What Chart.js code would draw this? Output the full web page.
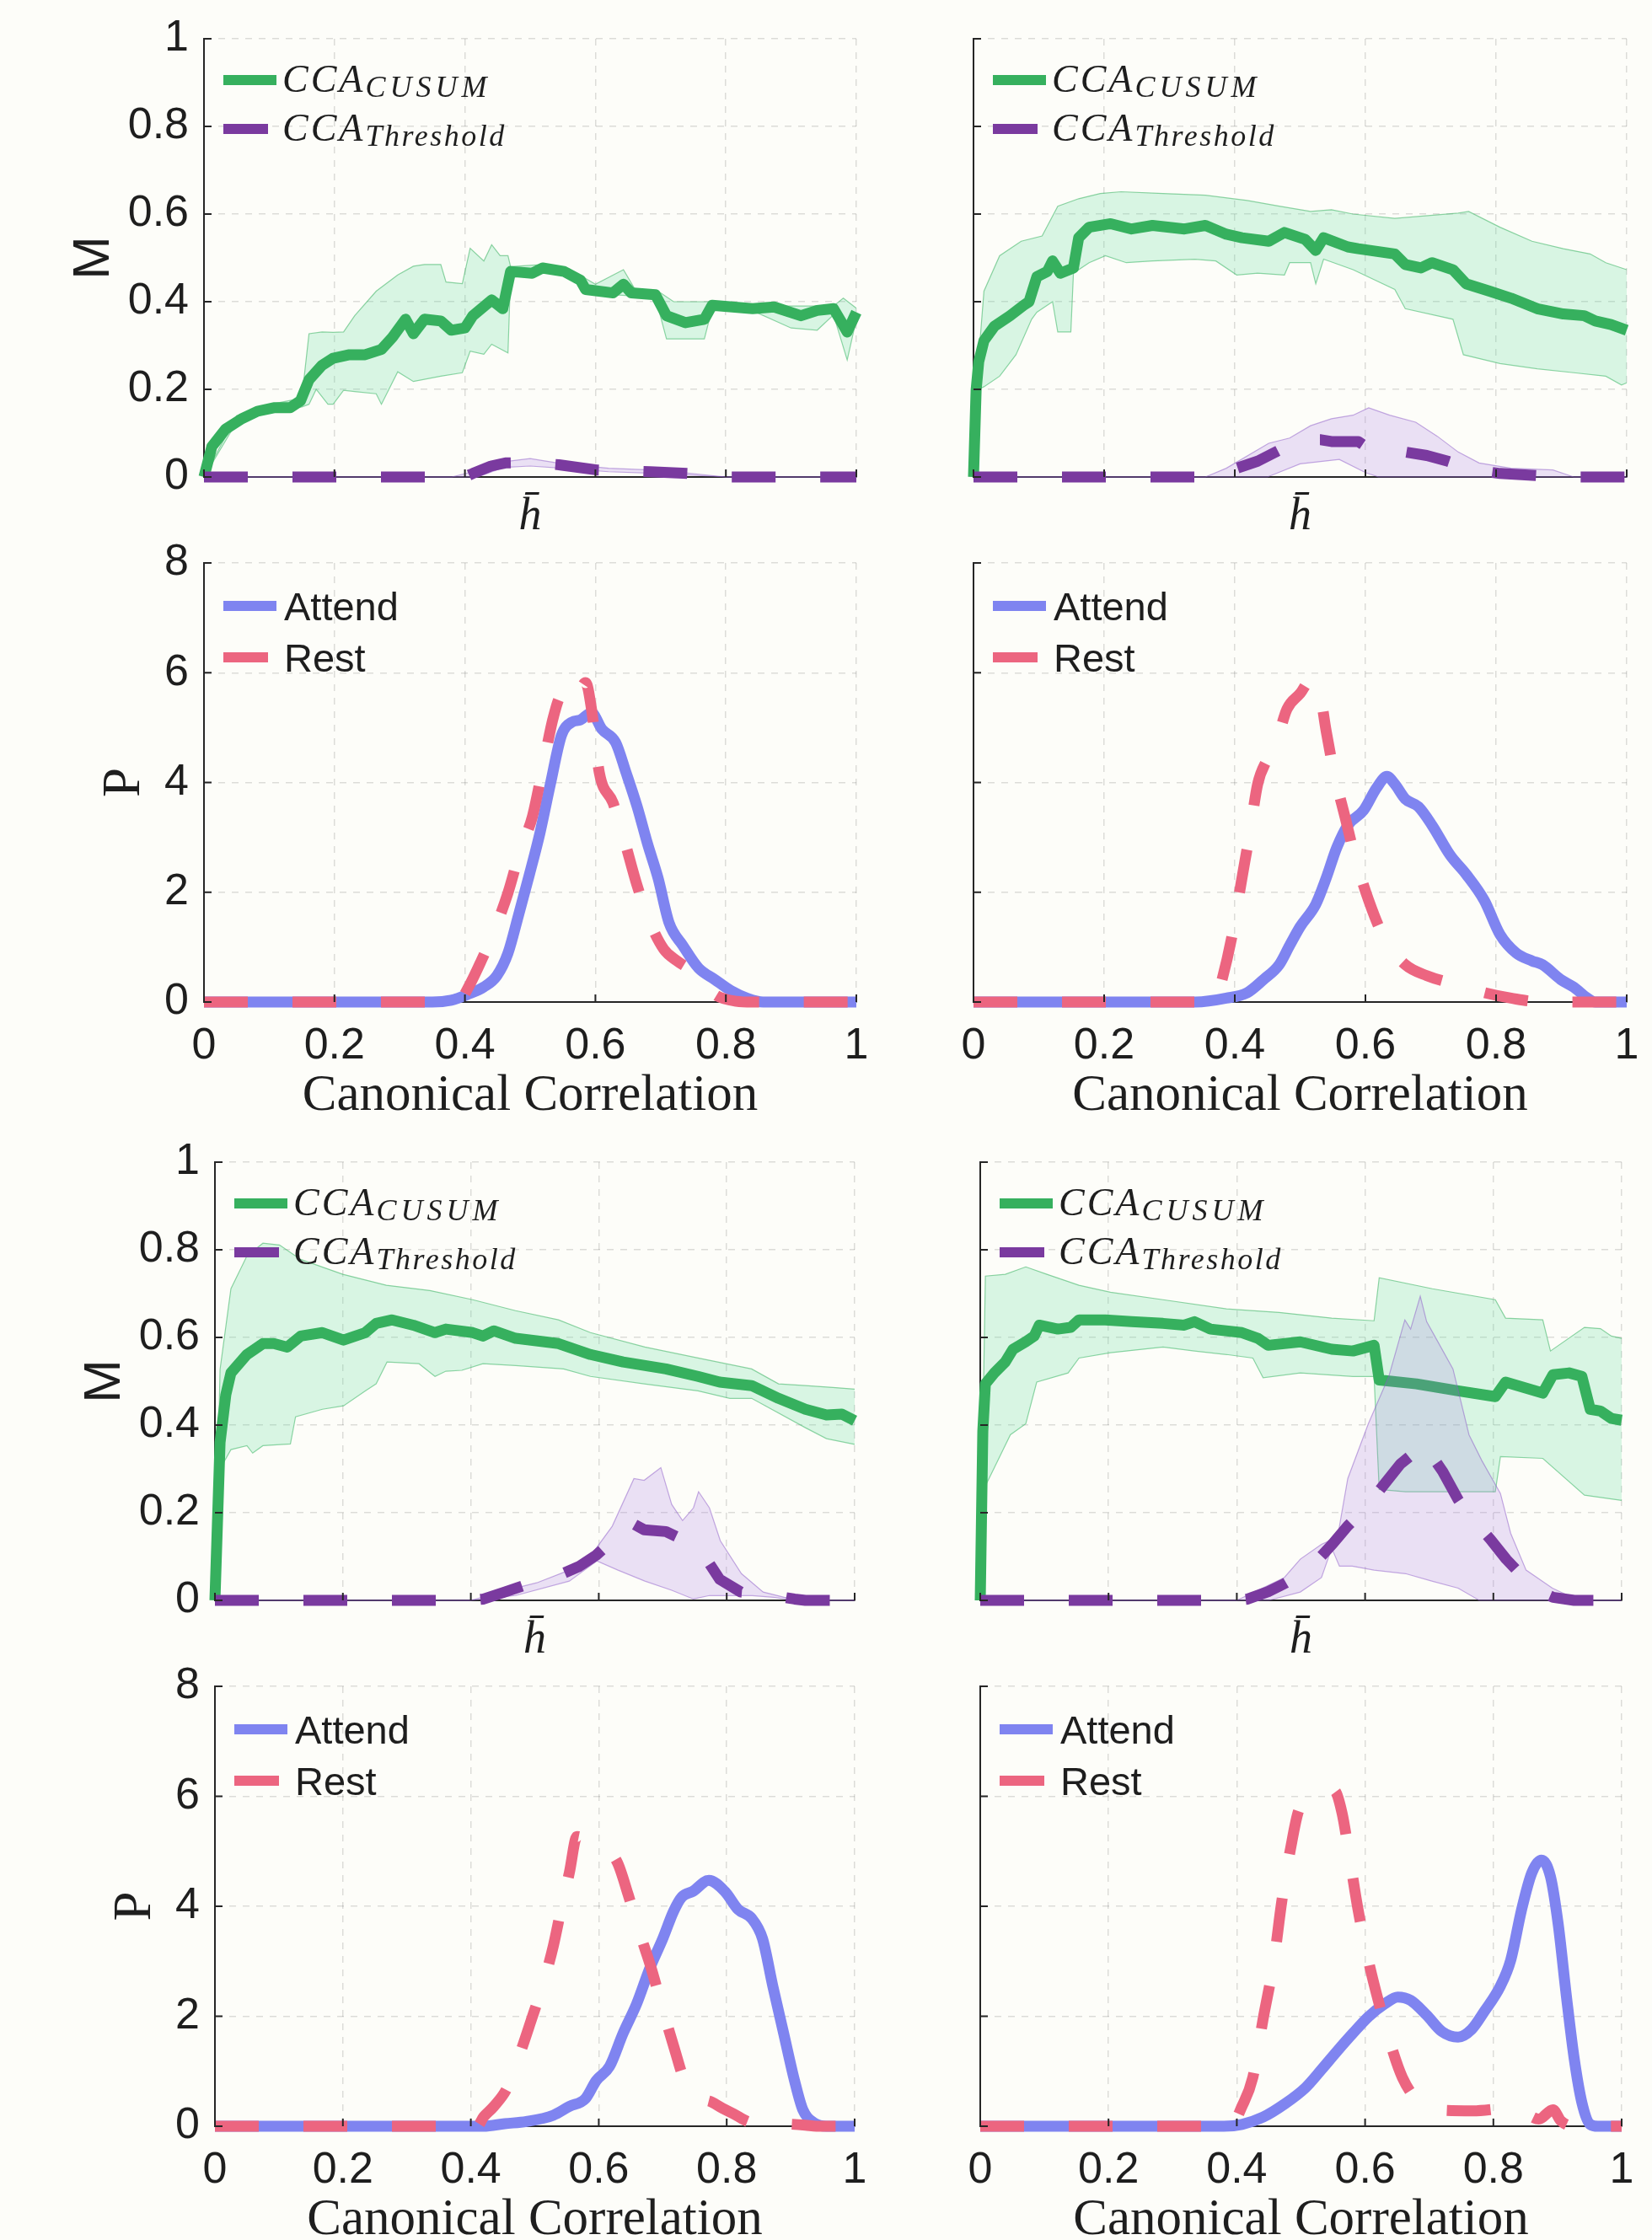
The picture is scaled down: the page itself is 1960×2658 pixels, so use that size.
<!DOCTYPE html>
<html>
<head>
<meta charset="utf-8">
<script src="https://cdn.jsdelivr.net/npm/chart.js@4.4.0/dist/chart.umd.min.js"></script>
<style>
  html, body { margin: 0; padding: 0; background: #fdfdf9; }
  #fig { position: relative; width: 1960px; height: 2658px; overflow: hidden; }
</style>
</head>
<body>
<div id="fig"></div>
<script>
// ======================= DATA =======================
const mTicks = [0, 0.2, 0.4, 0.6, 0.8, 1];
const pTicks = [0, 2, 4, 6, 8];
const xTicks = [0, 0.2, 0.4, 0.6, 0.8, 1];
const mLabel = 'M';
const pLabel = 'P';
const hLabel = 'h\u0304';
const ccLabel = 'Canonical Correlation';
const cusumName = 'CCA_CUSUM';
const thrName = 'CCA_Threshold';
const attendName = 'Attend';
const restName = 'Rest';

// --- panel 1 (top left) ---
const m1Cusum = [[0,0],[0.012,0.069],[0.033,0.109],[0.058,0.133],[0.082,0.15],[0.107,0.158],[0.132,0.158],[0.148,0.174],[0.161,0.222],[0.181,0.255],[0.198,0.271],[0.223,0.279],[0.247,0.279],[0.272,0.291],[0.289,0.319],[0.309,0.36],[0.321,0.327],[0.338,0.36],[0.363,0.356],[0.379,0.335],[0.4,0.34],[0.412,0.368],[0.441,0.404],[0.458,0.384],[0.47,0.469],[0.503,0.465],[0.519,0.477],[0.552,0.469],[0.577,0.449],[0.585,0.428],[0.627,0.42],[0.643,0.44],[0.655,0.42],[0.692,0.416],[0.709,0.368],[0.738,0.352],[0.767,0.36],[0.779,0.392],[0.841,0.384],[0.874,0.388],[0.915,0.368],[0.94,0.38],[0.965,0.384],[0.986,0.331],[1,0.376]];
const m1CusumHi = [[0,0],[0.05,0.14],[0.1,0.165],[0.15,0.18],[0.161,0.327],[0.181,0.331],[0.198,0.33],[0.214,0.331],[0.231,0.368],[0.264,0.424],[0.297,0.461],[0.321,0.481],[0.338,0.485],[0.363,0.485],[0.371,0.445],[0.396,0.441],[0.408,0.522],[0.429,0.493],[0.441,0.53],[0.454,0.505],[0.466,0.505],[0.47,0.48],[0.52,0.485],[0.56,0.475],[0.6,0.44],[0.643,0.473],[0.66,0.43],[0.7,0.42],[0.72,0.4],[0.779,0.4],[0.84,0.39],[0.9,0.39],[0.94,0.39],[0.965,0.39],[0.98,0.408],[1,0.385]];
const m1CusumLo = [[0,0],[0.05,0.125],[0.1,0.15],[0.15,0.16],[0.161,0.166],[0.172,0.2],[0.19,0.166],[0.198,0.166],[0.214,0.198],[0.231,0.195],[0.264,0.19],[0.272,0.166],[0.297,0.24],[0.321,0.218],[0.363,0.23],[0.396,0.238],[0.408,0.287],[0.429,0.28],[0.441,0.303],[0.466,0.283],[0.47,0.46],[0.52,0.47],[0.56,0.46],[0.585,0.42],[0.692,0.41],[0.709,0.315],[0.767,0.315],[0.779,0.385],[0.84,0.38],[0.9,0.34],[0.94,0.335],[0.965,0.37],[0.986,0.267],[1,0.36]];
const m1Thr = [[0,0],[0.4,0],[0.412,0.008],[0.44,0.025],[0.462,0.032],[0.5,0.033],[0.544,0.028],[0.602,0.016],[0.684,0.012],[0.742,0.008],[0.8,0],[1,0]];
const m1ThrHi = [[0,0],[0.38,0],[0.42,0.015],[0.46,0.035],[0.5,0.042],[0.55,0.03],[0.62,0.02],[0.7,0.015],[0.8,0],[1,0]];
const m1ThrLo = [[0,0],[0.42,0],[0.46,0.022],[0.5,0.025],[0.55,0.02],[0.62,0.012],[0.7,0.008],[0.8,0],[1,0]];

// --- panel 2 (top right) ---
const m2Cusum = [[0,0],[0.004,0.198],[0.008,0.263],[0.016,0.311],[0.032,0.344],[0.056,0.368],[0.077,0.392],[0.085,0.4],[0.097,0.457],[0.113,0.469],[0.121,0.493],[0.133,0.465],[0.153,0.477],[0.161,0.546],[0.177,0.57],[0.21,0.578],[0.242,0.566],[0.274,0.574],[0.323,0.566],[0.355,0.574],[0.387,0.554],[0.411,0.546],[0.452,0.538],[0.476,0.558],[0.508,0.542],[0.524,0.517],[0.536,0.546],[0.573,0.525],[0.589,0.521],[0.645,0.509],[0.661,0.485],[0.685,0.477],[0.702,0.489],[0.734,0.473],[0.754,0.441],[0.79,0.424],[0.823,0.408],[0.863,0.384],[0.903,0.372],[0.935,0.368],[0.952,0.356],[0.976,0.348],[1,0.335]];
const m2CusumHi = [[0,0],[0.004,0.198],[0.016,0.424],[0.04,0.505],[0.073,0.538],[0.105,0.55],[0.129,0.618],[0.161,0.635],[0.194,0.647],[0.226,0.651],[0.29,0.647],[0.355,0.643],[0.419,0.631],[0.468,0.618],[0.516,0.606],[0.548,0.61],[0.581,0.6],[0.645,0.59],[0.742,0.602],[0.758,0.606],[0.806,0.57],[0.855,0.538],[0.903,0.521],[0.944,0.509],[0.968,0.489],[1,0.473]];
const m2CusumLo = [[0,0],[0.004,0.198],[0.016,0.206],[0.04,0.23],[0.065,0.279],[0.089,0.36],[0.097,0.376],[0.121,0.4],[0.129,0.331],[0.149,0.331],[0.153,0.465],[0.177,0.489],[0.202,0.505],[0.234,0.489],[0.274,0.493],[0.339,0.497],[0.371,0.493],[0.403,0.461],[0.435,0.465],[0.476,0.461],[0.484,0.489],[0.516,0.489],[0.524,0.441],[0.536,0.497],[0.581,0.473],[0.645,0.428],[0.661,0.384],[0.734,0.36],[0.75,0.279],[0.806,0.259],[0.863,0.247],[0.919,0.238],[0.968,0.23],[0.992,0.21],[1,0.215]];
const m2Thr = [[0,0],[0.36,0],[0.403,0.02],[0.435,0.036],[0.468,0.061],[0.5,0.085],[0.532,0.085],[0.548,0.081],[0.589,0.081],[0.597,0.073],[0.629,0.061],[0.661,0.057],[0.694,0.049],[0.726,0.036],[0.766,0.016],[0.806,0.008],[0.855,0.004],[0.903,0],[1,0]];
const m2ThrHi = [[0,0],[0.355,0],[0.387,0.02],[0.452,0.077],[0.484,0.089],[0.516,0.117],[0.548,0.133],[0.581,0.141],[0.605,0.158],[0.637,0.141],[0.677,0.125],[0.71,0.093],[0.742,0.057],[0.774,0.032],[0.823,0.02],[0.887,0.016],[0.919,0],[1,0]];
const m2ThrLo = [[0,0],[0.45,0],[0.5,0.03],[0.56,0.04],[0.6,0.01],[0.62,0],[1,0]];

// --- panel 3 (second row left) ---
const p1Attend = [[0,0],[0.35,0],[0.379,0.034],[0.404,0.137],[0.429,0.274],[0.449,0.48],[0.466,0.89],[0.482,1.575],[0.499,2.33],[0.515,3.08],[0.531,3.97],[0.548,4.86],[0.564,5.1],[0.577,5.14],[0.594,5.27],[0.61,4.97],[0.631,4.73],[0.647,4.18],[0.664,3.56],[0.68,2.88],[0.696,2.26],[0.713,1.44],[0.734,1.03],[0.758,0.62],[0.783,0.41],[0.808,0.205],[0.833,0.068],[0.857,0],[1,0]];
const p1Rest = [[0,0],[0.39,0],[0.404,0.24],[0.425,0.75],[0.445,1.3],[0.466,1.99],[0.486,2.81],[0.503,3.36],[0.519,4.25],[0.536,5.21],[0.548,5.58],[0.565,5.4],[0.585,5.82],[0.594,5.34],[0.606,4.18],[0.627,3.63],[0.643,3.01],[0.664,2.12],[0.684,1.44],[0.705,0.96],[0.725,0.75],[0.75,0.55],[0.783,0.137],[0.816,0.014],[0.84,0],[1,0]];

// --- panel 4 (second row right) ---
const p2Attend = [[0,0],[0.34,0],[0.387,0.07],[0.419,0.17],[0.444,0.41],[0.468,0.68],[0.484,1.03],[0.5,1.37],[0.524,1.78],[0.54,2.26],[0.556,2.81],[0.573,3.22],[0.597,3.49],[0.617,3.9],[0.633,4.11],[0.645,3.97],[0.661,3.7],[0.681,3.56],[0.702,3.22],[0.73,2.67],[0.754,2.33],[0.782,1.85],[0.806,1.23],[0.831,0.89],[0.855,0.75],[0.871,0.68],[0.899,0.41],[0.919,0.27],[0.94,0.07],[0.952,0],[1,0]];
const p2Rest = [[0,0],[0.37,0],[0.379,0.34],[0.395,1.16],[0.411,2.26],[0.423,3.08],[0.435,3.97],[0.448,4.38],[0.46,4.59],[0.48,5.34],[0.5,5.62],[0.516,5.86],[0.528,5.75],[0.54,4.93],[0.552,4.18],[0.569,3.36],[0.585,2.6],[0.605,1.85],[0.629,1.16],[0.661,0.68],[0.694,0.48],[0.742,0.31],[0.782,0.17],[0.823,0.07],[0.871,0],[1,0]];

// --- panel 5 (third row left) ---
const m3Cusum = [[0,0],[0.008,0.36],[0.017,0.469],[0.025,0.519],[0.05,0.561],[0.075,0.586],[0.092,0.586],[0.113,0.578],[0.134,0.603],[0.168,0.611],[0.201,0.594],[0.235,0.611],[0.252,0.632],[0.277,0.64],[0.31,0.628],[0.344,0.611],[0.361,0.619],[0.403,0.611],[0.419,0.603],[0.436,0.615],[0.47,0.598],[0.537,0.586],[0.587,0.561],[0.638,0.544],[0.705,0.528],[0.755,0.511],[0.789,0.498],[0.839,0.49],[0.881,0.461],[0.923,0.436],[0.956,0.423],[0.98,0.425],[1,0.41]];
const m3CusumHi = [[0,0],[0.008,0.527],[0.025,0.711],[0.05,0.786],[0.075,0.815],[0.101,0.811],[0.134,0.778],[0.2,0.744],[0.268,0.719],[0.336,0.707],[0.403,0.686],[0.47,0.661],[0.537,0.64],[0.587,0.611],[0.672,0.578],[0.755,0.553],[0.839,0.528],[0.881,0.494],[0.923,0.49],[0.966,0.486],[1,0.482]];
const m3CusumLo = [[0,0],[0.008,0.3],[0.025,0.344],[0.05,0.353],[0.059,0.336],[0.075,0.353],[0.118,0.357],[0.126,0.419],[0.168,0.436],[0.201,0.444],[0.235,0.478],[0.252,0.494],[0.269,0.544],[0.319,0.54],[0.344,0.511],[0.361,0.523],[0.386,0.525],[0.419,0.54],[0.47,0.536],[0.545,0.528],[0.587,0.511],[0.671,0.494],[0.755,0.478],[0.805,0.461],[0.839,0.461],[0.923,0.394],[0.956,0.369],[1,0.356]];
const m3Thr = [[0,0],[0.4,0],[0.42,0.003],[0.453,0.019],[0.487,0.036],[0.537,0.057],[0.57,0.078],[0.596,0.103],[0.621,0.136],[0.65,0.178],[0.671,0.161],[0.705,0.157],[0.747,0.128],[0.772,0.086],[0.789,0.048],[0.822,0.019],[0.856,0.015],[0.906,0.003],[0.923,0],[1,0]];
const m3ThrHi = [[0,0],[0.4,0],[0.47,0.028],[0.503,0.04],[0.554,0.069],[0.588,0.103],[0.621,0.169],[0.655,0.278],[0.671,0.274],[0.697,0.303],[0.714,0.219],[0.731,0.182],[0.748,0.211],[0.756,0.248],[0.773,0.211],[0.79,0.136],[0.823,0.061],[0.857,0.019],[0.89,0.007],[0.923,0],[1,0]];
const m3ThrLo = [[0,0],[0.4,0],[0.47,0.011],[0.554,0.044],[0.597,0.09],[0.63,0.069],[0.672,0.044],[0.714,0.023],[0.748,0.003],[0.773,0.011],[0.84,0.011],[0.873,0.007],[0.906,0],[1,0]];

// --- panel 6 (third row right) ---
const m4Cusum = [[0,0],[0.004,0.386],[0.008,0.494],[0.022,0.519],[0.039,0.544],[0.051,0.573],[0.071,0.59],[0.084,0.603],[0.092,0.628],[0.121,0.619],[0.141,0.623],[0.154,0.64],[0.195,0.64],[0.236,0.636],[0.285,0.632],[0.318,0.628],[0.334,0.636],[0.359,0.619],[0.408,0.611],[0.433,0.598],[0.449,0.582],[0.499,0.59],[0.548,0.573],[0.581,0.569],[0.614,0.582],[0.622,0.503],[0.68,0.494],[0.745,0.478],[0.803,0.465],[0.819,0.498],[0.877,0.473],[0.893,0.515],[0.918,0.519],[0.938,0.511],[0.951,0.436],[0.967,0.432],[0.984,0.415],[1,0.411]];
const m4CusumHi = [[0,0],[0.004,0.39],[0.008,0.74],[0.039,0.744],[0.071,0.761],[0.104,0.744],[0.154,0.719],[0.203,0.703],[0.285,0.686],[0.384,0.665],[0.466,0.657],[0.548,0.644],[0.614,0.638],[0.622,0.736],[0.705,0.711],[0.803,0.686],[0.819,0.644],[0.877,0.64],[0.889,0.569],[0.942,0.623],[0.967,0.62],[0.984,0.603],[1,0.598]];
const m4CusumLo = [[0,0],[0.004,0.35],[0.008,0.261],[0.022,0.303],[0.047,0.378],[0.071,0.403],[0.088,0.498],[0.137,0.519],[0.154,0.553],[0.203,0.565],[0.285,0.578],[0.334,0.569],[0.384,0.561],[0.425,0.553],[0.441,0.508],[0.499,0.519],[0.581,0.511],[0.614,0.511],[0.622,0.253],[0.663,0.248],[0.803,0.248],[0.811,0.328],[0.877,0.324],[0.942,0.24],[1,0.228]];
const m4Thr = [[0,0],[0.4,0],[0.417,0.003],[0.449,0.02],[0.474,0.038],[0.5,0.06],[0.528,0.095],[0.55,0.13],[0.573,0.17],[0.597,0.205],[0.614,0.236],[0.63,0.265],[0.655,0.311],[0.671,0.33],[0.688,0.36],[0.704,0.33],[0.721,0.294],[0.745,0.23],[0.76,0.198],[0.795,0.14],[0.82,0.094],[0.844,0.057],[0.868,0.023],[0.893,0.007],[0.926,0],[1,0]];
const m4ThrHi = [[0,0],[0.4,0],[0.433,0.023],[0.474,0.052],[0.499,0.094],[0.532,0.128],[0.557,0.144],[0.573,0.278],[0.605,0.403],[0.637,0.511],[0.662,0.64],[0.671,0.619],[0.686,0.694],[0.696,0.636],[0.712,0.594],[0.737,0.528],[0.762,0.378],[0.782,0.319],[0.811,0.244],[0.827,0.153],[0.851,0.069],[0.892,0.028],[0.933,0],[1,0]];
const m4ThrLo = [[0,0],[0.45,0],[0.499,0.019],[0.532,0.052],[0.548,0.119],[0.56,0.078],[0.58,0.078],[0.614,0.069],[0.663,0.061],[0.704,0.044],[0.745,0.028],[0.778,0],[1,0]];

// --- panel 7 (bottom left) ---
const p3Attend = [[0,0],[0.42,0],[0.453,0.046],[0.487,0.086],[0.529,0.2],[0.554,0.36],[0.579,0.5],[0.596,0.83],[0.617,1.09],[0.638,1.69],[0.659,2.22],[0.68,2.88],[0.7,3.41],[0.717,3.91],[0.73,4.17],[0.747,4.27],[0.772,4.47],[0.797,4.27],[0.818,3.94],[0.839,3.78],[0.856,3.41],[0.872,2.55],[0.889,1.69],[0.906,0.83],[0.919,0.3],[0.936,0.066],[0.956,0],[1,0]];
const p3Rest = [[0,0],[0.41,0],[0.42,0.17],[0.436,0.36],[0.457,0.7],[0.478,1.36],[0.495,1.95],[0.512,2.55],[0.529,3.28],[0.541,3.94],[0.554,4.61],[0.566,5.27],[0.587,5.17],[0.608,5.07],[0.629,4.8],[0.646,4.21],[0.663,3.55],[0.68,2.95],[0.701,2.09],[0.718,1.42],[0.734,0.83],[0.755,0.5],[0.772,0.46],[0.793,0.33],[0.81,0.23],[0.839,0.066],[0.881,0.046],[0.923,0.02],[0.94,0],[1,0]];

// --- panel 8 (bottom right) ---
const p4Attend = [[0,0],[0.38,0],[0.408,0.033],[0.441,0.166],[0.474,0.4],[0.507,0.7],[0.532,1.03],[0.556,1.36],[0.581,1.69],[0.605,1.99],[0.63,2.22],[0.651,2.35],[0.671,2.29],[0.696,2.02],[0.72,1.72],[0.745,1.62],[0.766,1.76],[0.786,2.09],[0.811,2.55],[0.827,3.02],[0.844,3.94],[0.86,4.61],[0.875,4.84],[0.889,4.54],[0.901,3.68],[0.914,2.35],[0.926,1.23],[0.938,0.43],[0.951,0.033],[0.963,0],[1,0]];
const p4Rest = [[0,0],[0.39,0],[0.408,0.36],[0.425,0.89],[0.441,1.95],[0.458,3.02],[0.47,4.08],[0.483,5.0],[0.499,5.8],[0.524,5.93],[0.54,6.03],[0.552,6.1],[0.564,5.7],[0.576,4.87],[0.589,3.94],[0.605,3.02],[0.622,2.22],[0.638,1.56],[0.658,0.89],[0.687,0.4],[0.711,0.3],[0.768,0.28],[0.826,0.33],[0.85,0.23],[0.871,0.13],[0.893,0.3],[0.905,0.1],[0.926,0],[1,0]];

// ======================= STYLE =======================
const INK = '#1e1e1e';
const SANS = '"Liberation Sans", Arial, Helvetica, sans-serif';
const SERIF = '"Liberation Serif", "Times New Roman", serif';
const GREEN = '#36b05e', GREEN_EDGE = 'rgba(54,176,94,0.55)', GREEN_FILL = 'rgba(70,215,140,0.2)';
const PURPLE = '#7a3a9f', PURPLE_EDGE = 'rgba(140,90,200,0.5)', PURPLE_FILL = 'rgba(160,110,225,0.2)';
const BLUE = '#7f84f0', RED = '#ec6580';
const DASH = [52, 53];
const LW = 13;

// canvas margins around each plot area (top margin big enough for the "1"/"8" labels)
const YW = 200, TP = 60, RP = 40, XH = 160;

// plot-area boxes in page pixels
const boxes = [
  { l: 242,  t: 46,   r: 1016, b: 566 },
  { l: 1155, t: 46,   r: 1930, b: 566 },
  { l: 242,  t: 668,  r: 1016, b: 1189 },
  { l: 1155, t: 668,  r: 1930, b: 1189 },
  { l: 255,  t: 1379, r: 1014, b: 1899 },
  { l: 1163, t: 1379, r: 1924, b: 1899 },
  { l: 255,  t: 2001, r: 1014, b: 2523 },
  { l: 1163, t: 2001, r: 1924, b: 2523 },
];

const pts = arr => arr.map(p => ({ x: p[0], y: p[1] }));

// ======================= PLUGIN: inward ticks + legend =======================
const decor = {
  id: 'decor',
  afterDraw(chart, args, opts) {
    const { ctx, chartArea: a, scales: { x, y } } = chart;
    ctx.save();
    ctx.setLineDash([]);
    ctx.strokeStyle = '#262626';
    ctx.lineWidth = 2;
    ctx.beginPath();
    y.ticks.forEach(t => { const py = y.getPixelForValue(t.value); ctx.moveTo(a.left, py); ctx.lineTo(a.left + 9, py); });
    x.ticks.forEach(t => { const px = x.getPixelForValue(t.value); ctx.moveTo(px, a.bottom); ctx.lineTo(px, a.bottom - 9); });
    ctx.stroke();

    const items = chart.data.datasets.filter(d => d.label);
    items.forEach((d, i) => {
      const ly = a.top + opts.rows[i];
      const x0 = a.left + 23;
      const len = d.borderDash && d.borderDash.length ? 53 : 63;
      ctx.lineCap = 'butt';
      ctx.strokeStyle = d.borderColor;
      ctx.lineWidth = 12;
      ctx.beginPath(); ctx.moveTo(x0, ly); ctx.lineTo(x0 + len, ly); ctx.stroke();

      ctx.fillStyle = INK;
      ctx.textAlign = 'left';
      ctx.textBaseline = 'alphabetic';
      const [main, sub] = d.label.split('_');
      if (sub) {
        const tx = a.left + 93;
        ctx.font = 'italic 46px ' + SERIF;
        ctx.letterSpacing = '3px';
        ctx.fillText(main, tx, ly + 14);
        const w = ctx.measureText(main).width;
        ctx.font = 'italic 36px ' + SERIF;
        ctx.letterSpacing = /^[A-Z]+$/.test(sub) ? '5px' : '2.5px';
        ctx.fillText(sub, tx + w, ly + 20);
      } else {
        ctx.font = '47px ' + SANS;
        ctx.letterSpacing = '0px';
        ctx.fillText(main, a.left + 95, ly + 17);
      }
    });
    ctx.restore();
  }
};
Chart.register(decor);

// ======================= BUILDERS =======================
function lineSet(label, data, color, dash, order, smooth) {
  return {
    label, data: pts(data), borderColor: color, borderWidth: LW, borderDash: dash,
    borderCapStyle: 'butt', borderJoinStyle: 'round', fill: false, order, clip: 12,
    cubicInterpolationMode: smooth ? 'monotone' : 'default', tension: 0,
  };
}
function bandSet(data, edge, fillColor, target, order) {
  return {
    data: pts(data), borderColor: edge, borderWidth: 1.2, clip: 4,
    backgroundColor: fillColor || 'transparent', fill: target, order, tension: 0,
  };
}

function axis(pad, vals, showTicks, title, fitter) {
  return {
    type: 'linear', min: vals[0], max: vals[vals.length - 1],
    afterFit: fitter,
    afterBuildTicks: s => { s.ticks = vals.map(v => ({ value: v })); },
    grid: { color: 'rgba(0,0,0,0.13)', lineWidth: 1.5, drawTicks: false },
    border: { display: true, color: '#262626', width: 2, dash: [8, 8] },
    ticks: { display: showTicks, padding: pad, color: INK, font: { family: SANS, size: 52 }, callback: v => String(v) },
    title
  };
}

function makePanel(box, datasets, o) {
  const cv = document.createElement('canvas');
  const w = YW + (box.r - box.l) + RP, h = TP + (box.b - box.t) + XH;
  cv.width = w; cv.height = h;
  cv.style.cssText = `position:absolute;left:${box.l - YW}px;top:${box.t - TP}px;width:${w}px;height:${h}px`;
  document.getElementById('fig').appendChild(cv);
  return new Chart(cv, {
    type: 'line',
    data: { datasets },
    options: {
      responsive: false, animation: false, devicePixelRatio: 1,
      layout: { padding: { top: TP, right: RP, left: 0, bottom: 0 } },
      elements: { point: { radius: 0 } },
      plugins: { legend: { display: false }, tooltip: { enabled: false }, decor: { rows: o.rows } },
      scales: {
        x: axis(21, xTicks, o.xTicks, o.xTitle, s => { s.height = XH; }),
        y: axis(18, o.yVals, o.yTicks, o.yTitle, s => { s.width = YW; }),
      }
    }
  });
}

const hTitle = { display: true, text: hLabel, color: INK, font: { family: SERIF, style: 'italic', size: 54 }, padding: { top: 0, bottom: 80 } };
const ccTitle = { display: true, text: ccLabel, color: INK, font: { family: SERIF, size: 61 }, padding: { top: 0, bottom: 11 } };
const mTitle = { display: true, text: mLabel, color: INK, font: { family: SANS, size: 62 }, padding: { top: 33, bottom: 0 } };
const pTitle = { display: true, text: pLabel, color: INK, font: { family: SERIF, size: 63 }, padding: { top: 69, bottom: 0 } };

function mPanel(box, left, c, cHi, cLo, t, tHi, tLo) {
  return makePanel(box, [
    lineSet(cusumName, c, GREEN, [], 2, false),
    bandSet(cHi, GREEN_EDGE, GREEN_FILL, 2, 3),
    bandSet(cLo, GREEN_EDGE, null, false, 3),
    lineSet(thrName, t, PURPLE, DASH, 0, false),
    bandSet(tHi, PURPLE_EDGE, PURPLE_FILL, 5, 1),
    bandSet(tLo, PURPLE_EDGE, null, false, 1),
  ], { rows: [49, 107], xTicks: false, xTitle: hTitle, yVals: mTicks, yTicks: left, yTitle: left ? mTitle : { display: false } });
}

function pPanel(box, left, att, rest) {
  return makePanel(box, [
    lineSet(attendName, att, BLUE, [], 1, true),
    lineSet(restName, rest, RED, DASH, 0, true),
  ], { rows: [51, 112], xTicks: true, xTitle: ccTitle, yVals: pTicks, yTicks: left, yTitle: left ? pTitle : { display: false } });
}

// ======================= DRAW =======================
document.addEventListener('DOMContentLoaded', () => {
  mPanel(boxes[0], true,  m1Cusum, m1CusumHi, m1CusumLo, m1Thr, m1ThrHi, m1ThrLo);
  mPanel(boxes[1], false, m2Cusum, m2CusumHi, m2CusumLo, m2Thr, m2ThrHi, m2ThrLo);
  pPanel(boxes[2], true,  p1Attend, p1Rest);
  pPanel(boxes[3], false, p2Attend, p2Rest);
  mPanel(boxes[4], true,  m3Cusum, m3CusumHi, m3CusumLo, m3Thr, m3ThrHi, m3ThrLo);
  mPanel(boxes[5], false, m4Cusum, m4CusumHi, m4CusumLo, m4Thr, m4ThrHi, m4ThrLo);
  pPanel(boxes[6], true,  p3Attend, p3Rest);
  pPanel(boxes[7], false, p4Attend, p4Rest);
});
</script>
</body>
</html>
